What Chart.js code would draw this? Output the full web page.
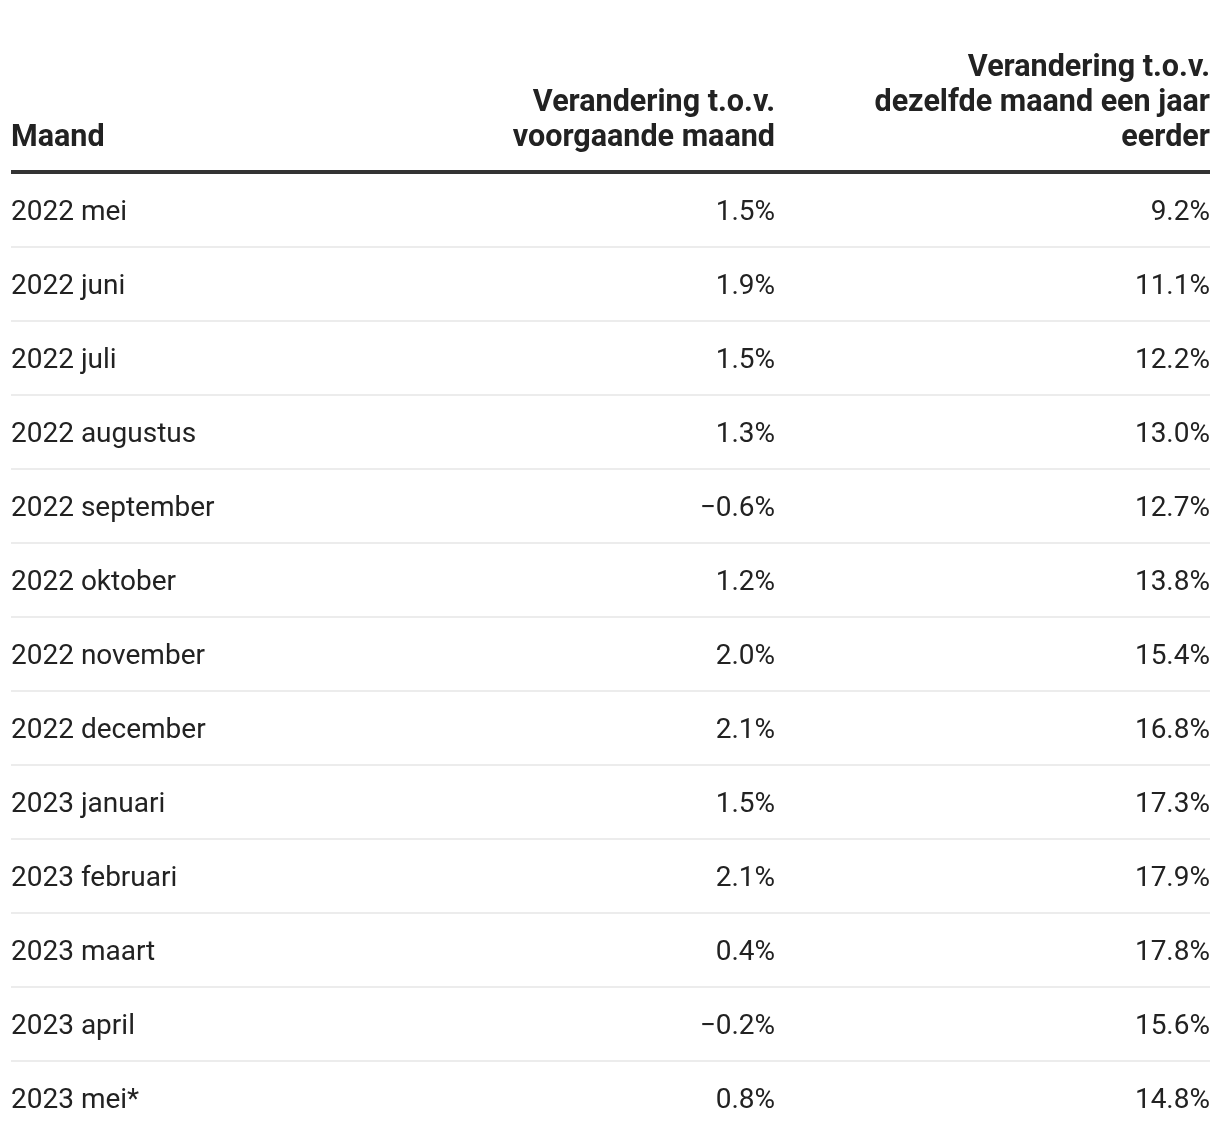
<!DOCTYPE html>
<html>
<head>
<meta charset="utf-8">
<script src="https://cdn.jsdelivr.net/npm/chart.js@4"></script>
<style>
    html, body { margin: 0; padding: 0; background: #fff; }
    #wrap { width: 1220px; height: 1144px; position: relative; }
</style>
</head>
<body>
<div id="wrap"><canvas id="tableChart"></canvas></div>
<script>
const months = ['2022 mei', '2022 juni', '2022 juli', '2022 augustus', '2022 september', '2022 oktober',
    '2022 november', '2022 december', '2023 januari', '2023 februari', '2023 maart', '2023 april', '2023 mei*'];
const momChange = [1.5, 1.9, 1.5, 1.3, -0.6, 1.2, 2.0, 2.1, 1.5, 2.1, 0.4, -0.2, 0.8];
const yoyChange = [9.2, 11.1, 12.2, 13.0, 12.7, 13.8, 15.4, 16.8, 17.3, 17.9, 17.8, 15.6, 14.8];
const headMonth = ['Maand'];
const headMom = ['Verandering t.o.v.', 'voorgaande maand'];
const headYoy = ['Verandering t.o.v.', 'dezelfde maand een jaar', 'eerder'];

const textColor = '#222222';
const fontFamily = 'Roboto, "Noto Sans", sans-serif';

function fmtPct(v) {
    const s = Math.abs(v).toFixed(1) + '%';
    return v < 0 ? '\u2212' + s : s;
}

// draws header and cell texts, rows placed by the category scale
const tablePlugin = {
    id: 'tableText',
    afterDraw(chart) {
        const ctx = chart.ctx;
        const area = chart.chartArea;
        const x = chart.scales.x;
        const y = chart.scales.y;
        const columns = [
            { head: headMonth, at: 0, align: 'left', cells: months },
            { head: headMom, at: 0.6372, align: 'right', cells: momChange.map(fmtPct) },
            { head: headYoy, at: 1, align: 'right', cells: yoyChange.map(fmtPct) }
        ];

        ctx.save();
        // thick rule under header
        ctx.strokeStyle = '#333333';
        ctx.lineWidth = 4;
        ctx.beginPath();
        ctx.moveTo(area.left, area.top - 1);
        ctx.lineTo(area.right, area.top - 1);
        ctx.stroke();

        ctx.fillStyle = textColor;
        columns.forEach(col => {
            const px = x.getPixelForValue(col.at);
            ctx.textAlign = col.align;

            ctx.font = 'bold 30.5px ' + fontFamily;
            ctx.textBaseline = 'alphabetic';
            const base = area.top - 27;
            col.head.forEach((line, i) => {
                ctx.fillText(line, px, base - (col.head.length - 1 - i) * 35);
            });

            ctx.font = '28px ' + fontFamily;
            ctx.textBaseline = 'middle';
            col.cells.forEach((txt, i) => {
                ctx.fillText(txt, px, y.getPixelForValue(i) + 3);
            });
        });
        ctx.restore();
    }
};

document.addEventListener('DOMContentLoaded', () => {
    const ctx = document.getElementById('tableChart').getContext('2d');
    new Chart(ctx, {
        type: 'bar',
        data: {
            labels: months,
            datasets: []
        },
        options: {
            responsive: true,
            maintainAspectRatio: false,
            animation: false,
            layout: {
                padding: { left: 11, right: 10, top: 173, bottom: 9 }
            },
            plugins: {
                legend: { display: false },
                tooltip: { enabled: false }
            },
            scales: {
                x: {
                    type: 'linear',
                    min: 0,
                    max: 1,
                    offset: false,
                    display: false
                },
                y: {
                    type: 'category',
                    offset: true,
                    border: { display: false },
                    ticks: { display: false },
                    grid: {
                        offset: true,
                        drawTicks: false,
                        lineWidth: 2,
                        color: c => (c.type !== 'tick' || c.index === 0) ? 'rgba(0,0,0,0)' : '#ececec'
                    }
                }
            }
        },
        plugins: [tablePlugin]
    });
});
</script>
</body>
</html>
